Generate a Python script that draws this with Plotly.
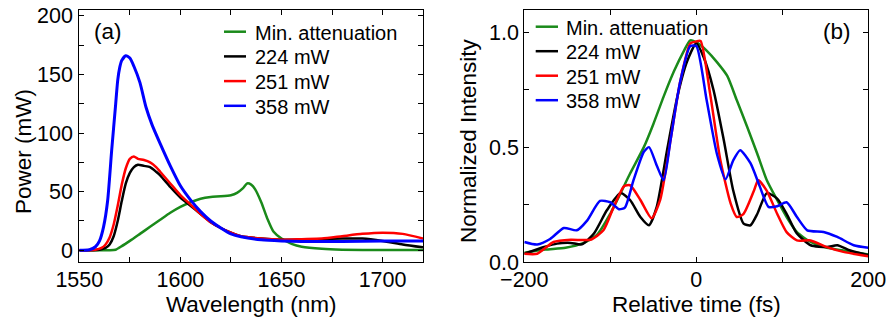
import plotly.graph_objects as go

# ---------------- Panel (a): spectra ----------------
wl_green = [1550, 1565, 1568, 1571, 1575, 1580, 1585, 1590, 1595, 1600, 1605, 1610, 1615, 1620, 1625,
            1628, 1631, 1633, 1635, 1637, 1640, 1643, 1646, 1650, 1655, 1660, 1670, 1680, 1700, 1720]
p_green = [0, 0, 0.5, 3.5, 8, 14, 20, 26, 32, 37, 41, 44, 45.5, 46, 47,
           49, 53, 57, 56, 52, 41, 27, 16, 10, 5.5, 3, 1.2, 0.5, 0.2, 0.2]

wl_224 = [1550, 1560, 1563, 1565, 1567, 1569, 1571, 1573, 1575, 1577, 1579, 1582, 1585, 1588, 1590,
          1595, 1600, 1605, 1610, 1615, 1620, 1625, 1630, 1640, 1650, 1660, 1670, 1680, 1690, 1700, 1710, 1720]
p_224 = [0, 0.5, 2, 5, 12, 25, 42, 57, 66, 71, 73, 72, 71, 67, 64,
         54, 45, 38, 31, 24, 19, 15, 12, 10, 9, 9, 9.5, 10, 10, 8, 5, 2.5]

wl_251 = [1550, 1558, 1561, 1563, 1565, 1567, 1569, 1571, 1573, 1575, 1577, 1579, 1582, 1585, 1588,
          1590, 1595, 1600, 1605, 1610, 1615, 1620, 1625, 1630, 1640, 1650, 1660, 1670, 1680, 1690,
          1700, 1710, 1720]
p_251 = [0, 0.5, 2, 5, 11, 22, 38, 56, 70, 78, 80, 78, 77, 75, 71,
         67, 57, 47, 39, 31, 24, 19, 15, 12, 10, 9, 9.5, 10, 12, 14,
         15, 14, 10]

wl_358 = [1550, 1555, 1558, 1560, 1562, 1564, 1566, 1568, 1569, 1570, 1571, 1573, 1575, 1577, 1580,
          1583, 1586, 1590, 1595, 1600, 1605, 1610, 1615, 1620, 1625, 1630, 1640, 1650, 1660, 1680,
          1700, 1720]
p_358 = [0, 0.5, 3, 8, 20, 42, 85, 125, 145, 156, 162, 166, 164, 157, 143,
         122, 107, 91, 72, 55, 43, 33, 25, 19, 14, 11.5, 9, 8, 7.5, 7.5,
         8, 8]

# ---------------- Panel (b): autocorrelation traces ----------------
t_green = [-200, -176, -152, -131, -115, -100, -88, -77, -61, -50, -38, -26, -15, -7, 1,
           12, 24, 36, 47, 59, 71, 82, 94, 105, 117, 133, 152, 171, 200]
i_green = [0.04, 0.054, 0.062, 0.083, 0.12, 0.21, 0.30, 0.385, 0.50, 0.60, 0.72, 0.83, 0.915, 0.965, 0.955,
           0.92, 0.87, 0.81, 0.705, 0.59, 0.47, 0.356, 0.27, 0.196, 0.13, 0.087, 0.062, 0.05, 0.033]

t_224 = [-200, -177, -162, -146, -133, -119, -104, -88, -77, -65, -55, -46, -34, -22, -11, 0,
         9, 20, 32, 43, 55, 63, 71, 82, 94, 105, 117, 133, 152, 164, 179, 200]
i_224 = [0.036, 0.065, 0.08, 0.083, 0.077, 0.124, 0.225, 0.30, 0.27, 0.196, 0.16, 0.24, 0.487, 0.72, 0.87, 0.952,
         0.887, 0.749, 0.53, 0.31, 0.167, 0.16, 0.21, 0.30, 0.276, 0.21, 0.124, 0.073, 0.065, 0.073, 0.05, 0.03]

t_251 = [-200, -185, -166, -146, -123, -108, -96, -84, -77, -65, -52, -42, -30, -19, -7, 0, 5,
         16, 28, 40, 47, 55, 67, 72, 82, 94, 105, 117, 133, 152, 171, 200]
i_251 = [0.036, 0.036, 0.087, 0.097, 0.097, 0.138, 0.24, 0.33, 0.334, 0.27, 0.19, 0.27, 0.53, 0.78, 0.952, 0.96, 0.962,
         0.734, 0.443, 0.254, 0.196, 0.21, 0.31, 0.356, 0.31, 0.21, 0.13, 0.094, 0.094, 0.065, 0.044, 0.025]

t_358 = [-200, -185, -170, -154, -139, -127, -112, -100, -90, -83, -73, -61, -55, -46, -38, -30, -19, -7, 0,
         12, 24, 34, 43, 51, 63, 74, 84, 94, 105, 117, 129, 148, 164, 183, 200]
i_358 = [0.087, 0.076, 0.10, 0.148, 0.138, 0.18, 0.266, 0.26, 0.23, 0.237, 0.356, 0.48, 0.50, 0.42, 0.356, 0.53, 0.78, 0.94, 0.94,
         0.705, 0.47, 0.36, 0.443, 0.487, 0.43, 0.327, 0.24, 0.243, 0.26, 0.196, 0.138, 0.131, 0.109, 0.073, 0.062]

names = ["Min. attenuation", "224 mW", "251 mW", "358 mW"]
colors = ["#1a8a1a", "#000000", "#ff0000", "#0000ff"]

FONT = "Arial, Liberation Sans, sans-serif"
W, H = 890, 320

fig = go.Figure()

left_sets = [(wl_green, p_green), (wl_224, p_224), (wl_251, p_251), (wl_358, p_358)]
for (x, y), n, c in zip(left_sets, names, colors):
    fig.add_trace(go.Scatter(x=x, y=y, name=n, mode="lines", showlegend=False,
                             line=dict(color=c, width=3 if c == "#0000ff" else 2.5, shape="spline", smoothing=0.6),
                             xaxis="x", yaxis="y"))

right_sets = [(t_green, i_green), (t_224, i_224), (t_251, i_251), (t_358, i_358)]
for (x, y), n, c in zip(right_sets, names, colors):
    fig.add_trace(go.Scatter(x=x, y=y, name=n, mode="lines", showlegend=False,
                             line=dict(color=c, width=2.5, shape="spline", smoothing=0.6),
                             xaxis="x2", yaxis="y2"))

def px_x(p):
    return p / W

def px_y(p):
    return 1 - p / H

yd = [px_y(262), px_y(10)]
TICK = 21.5
TITLE = 22.5
LEG = 20
common = dict(showline=True, linecolor="black", linewidth=1.3, mirror="ticks", ticks="inside",
              ticklen=5, tickwidth=1, tickcolor="black", showgrid=False, zeroline=False,
              tickfont=dict(family=FONT, size=TICK, color="black"), automargin=False)

annotations = [
    dict(text="(a)", x=px_x(92), y=px_y(32), xanchor="left"),
    dict(text="(b)", x=px_x(853), y=px_y(32), xanchor="right"),
    dict(text="Power (mW)", x=px_x(23.3), y=px_y(151.7), xanchor="center", textangle=-90, size=TITLE),
    dict(text="Normalized Intensity", x=px_x(468), y=px_y(141), xanchor="center", textangle=-90, size=TITLE),
]
shapes = []
# hand-placed legends (line sample + label), one per panel
for (x0, x1, xt, y0, dy) in [(224, 246, 253, 31.7, 24.7), (535.7, 558, 564.3, 26.7, 24.5)]:
    for i, (n, c) in enumerate(zip(names, colors)):
        yy = y0 + dy * i
        shapes.append(dict(type="line", xref="paper", yref="paper", x0=px_x(x0), x1=px_x(x1),
                           y0=px_y(yy), y1=px_y(yy), line=dict(color=c, width=2.5)))
        annotations.append(dict(text=n, x=px_x(xt), y=px_y(yy + 1), xanchor="left", size=LEG))

ann_objs = []
for a in annotations:
    size = a.pop("size", TITLE)
    ann_objs.append(dict(xref="paper", yref="paper", yanchor="middle", showarrow=False,
                         font=dict(family=FONT, size=size, color="black"), **a))

fig.update_layout(
    width=W, height=H, margin=dict(l=0, r=0, t=0, b=0),
    paper_bgcolor="white", plot_bgcolor="white",
    font=dict(family=FONT, color="black"),
    showlegend=False,
    xaxis=dict(domain=[px_x(79.3), px_x(423)], range=[1550, 1720], dtick=50, tick0=1550,
               minor=dict(dtick=25, ticks="inside", ticklen=5, tickcolor="black"),
               title=dict(text="Wavelength (nm)", font=dict(size=TITLE, family=FONT), standoff=3),
               ticklabelstandoff=-2, anchor="y", **common),
    yaxis=dict(domain=yd, range=[-10, 205], dtick=50, tick0=0,
               minor=dict(dtick=25, ticks="inside", ticklen=5, tickcolor="black"),
               ticklabelstandoff=1, anchor="x", **common),
    xaxis2=dict(domain=[px_x(524.3), px_x(868.3)], range=[-200, 200], dtick=200, tick0=-200,
                minor=dict(dtick=100, ticks="inside", ticklen=5, tickcolor="black"),
                title=dict(text="Relative time (fs)", font=dict(size=TITLE, family=FONT), standoff=3),
                ticklabelstandoff=-2, anchor="y2", **common),
    yaxis2=dict(domain=yd, range=[0, 1.097], dtick=0.5, tick0=0, tickformat=".1f",
                minor=dict(dtick=0.25, ticks="inside", ticklen=5, tickcolor="black"),
                ticklabelstandoff=0, anchor="x2", **common),
    annotations=ann_objs,
    shapes=shapes,
)

fig.write_html("out.html", config={"displayModeBar": False},
               post_script="document.body.style.margin='0';document.body.style.padding='0';")
